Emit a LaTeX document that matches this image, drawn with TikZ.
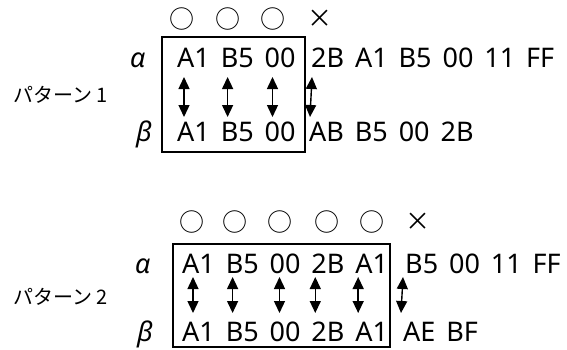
\documentclass[tikz,border=0pt]{standalone}
\usepackage{fontspec}
\setmainfont{Noto Sans}
\newfontfamily\jpfont{Noto Sans CJK JP}
\usetikzlibrary{arrows.meta}
\begin{document}
\begin{tikzpicture}[x=1pt,y=-1pt,
  byte/.style={font=\fontsize{27}{27}\selectfont, inner sep=0pt, anchor=base west},
  greek/.style={font=\fontsize{27}{27}\selectfont\itshape, inner sep=0pt, anchor=base west},
  verdict/.style={font=\jpfont\fontsize{25}{25}\selectfont, inner sep=0pt},
  patname/.style={font=\jpfont\fontsize{20}{20}\selectfont, inner sep=0pt, anchor=west},
  boxframe/.style={line width=1.4pt},
  link/.style={line width=1.4pt, {Triangle[length=12pt,width=11pt]}-{Triangle[length=12pt,width=11pt]}},
]
\def\gap{10.5pt}
\useasboundingbox (0,0) rectangle (567,349);

% ---------- pattern 1 ----------
\node[patname] (name1) at (13,95) {パターン 1};
\node[greek] (al1) at (130,67) {α};
\node[greek] (be1) at (136,141) {β};

\node[byte] (p1a1) at (177,67) {A1};
\node[byte] (p1a2) at ([xshift=\gap]p1a1.base east) {B5};
\node[byte] (p1a3) at ([xshift=\gap]p1a2.base east) {00};
\node[byte] (p1a4) at (311,67) {2B};
\node[byte] (p1a5) at ([xshift=\gap]p1a4.base east) {A1};
\node[byte] (p1a6) at ([xshift=\gap]p1a5.base east) {B5};
\node[byte] (p1a7) at ([xshift=\gap]p1a6.base east) {00};
\node[byte] (p1a8) at ([xshift=\gap]p1a7.base east) {11};
\node[byte] (p1a9) at ([xshift=\gap]p1a8.base east) {FF};

\node[byte] (p1b1) at (177,141) {A1};
\node[byte] (p1b2) at ([xshift=\gap]p1b1.base east) {B5};
\node[byte] (p1b3) at ([xshift=\gap]p1b2.base east) {00};
\node[byte] (p1b4) at (309,141) {AB};
\node[byte] (p1b5) at ([xshift=\gap]p1b4.base east) {B5};
\node[byte] (p1b6) at ([xshift=\gap]p1b5.base east) {00};
\node[byte] (p1b7) at ([xshift=\gap]p1b6.base east) {2B};

\node[verdict] (m11) at (182,19) {○};
\node[verdict] (m12) at (228,19) {○};
\node[verdict] (m13) at (273,19) {○};
\node[verdict] (m14) at (320,19) {×};

\draw[boxframe] (162,37) rectangle (305,152);

\foreach \i/\d in {1/7,2/7,3/8,4/1}
  \draw[link] ([xshift=\d pt,yshift=-10pt]p1a\i.base west) -- ([xshift=\d pt,yshift=24pt]p1b\i.base west);

% ---------- pattern 2 ----------
\node[patname] (name2) at (13,297) {パターン 2};
\node[greek] (al2) at (135,273) {α};
\node[greek] (be2) at (137,341) {β};

\node[byte] (p2a1) at (182,273) {A1};
\node[byte] (p2a2) at ([xshift=\gap]p2a1.base east) {B5};
\node[byte] (p2a3) at ([xshift=\gap]p2a2.base east) {00};
\node[byte] (p2a4) at ([xshift=\gap]p2a3.base east) {2B};
\node[byte] (p2a5) at ([xshift=\gap]p2a4.base east) {A1};
\node[byte] (p2a6) at (405,273) {B5};
\node[byte] (p2a7) at ([xshift=\gap]p2a6.base east) {00};
\node[byte] (p2a8) at ([xshift=\gap]p2a7.base east) {11};
\node[byte] (p2a9) at ([xshift=\gap]p2a8.base east) {FF};

\node[byte] (p2b1) at (182,341) {A1};
\node[byte] (p2b2) at ([xshift=\gap]p2b1.base east) {B5};
\node[byte] (p2b3) at ([xshift=\gap]p2b2.base east) {00};
\node[byte] (p2b4) at ([xshift=\gap]p2b3.base east) {2B};
\node[byte] (p2b5) at ([xshift=\gap]p2b4.base east) {A1};
\node[byte] (p2b6) at (403,341) {AE};
\node[byte] (p2b7) at ([xshift=\gap]p2b6.base east) {BF};

\node[verdict] (m21) at (192,222) {○};
\node[verdict] (m22) at (235,222) {○};
\node[verdict] (m23) at (280,222) {○};
\node[verdict] (m24) at (327,222) {○};
\node[verdict] (m25) at (372,222) {○};
\node[verdict] (m26) at (418,222) {×};

\draw[boxframe] (173,244) rectangle (390,347);

\foreach \i/\d in {1/11,2/7,3/10,4/4,5/3,6/-2}
  \draw[link] ([xshift=\d pt,yshift=-4pt]p2a\i.base west) -- ([xshift=\d pt,yshift=28pt]p2b\i.base west);
\end{tikzpicture}
\end{document}
